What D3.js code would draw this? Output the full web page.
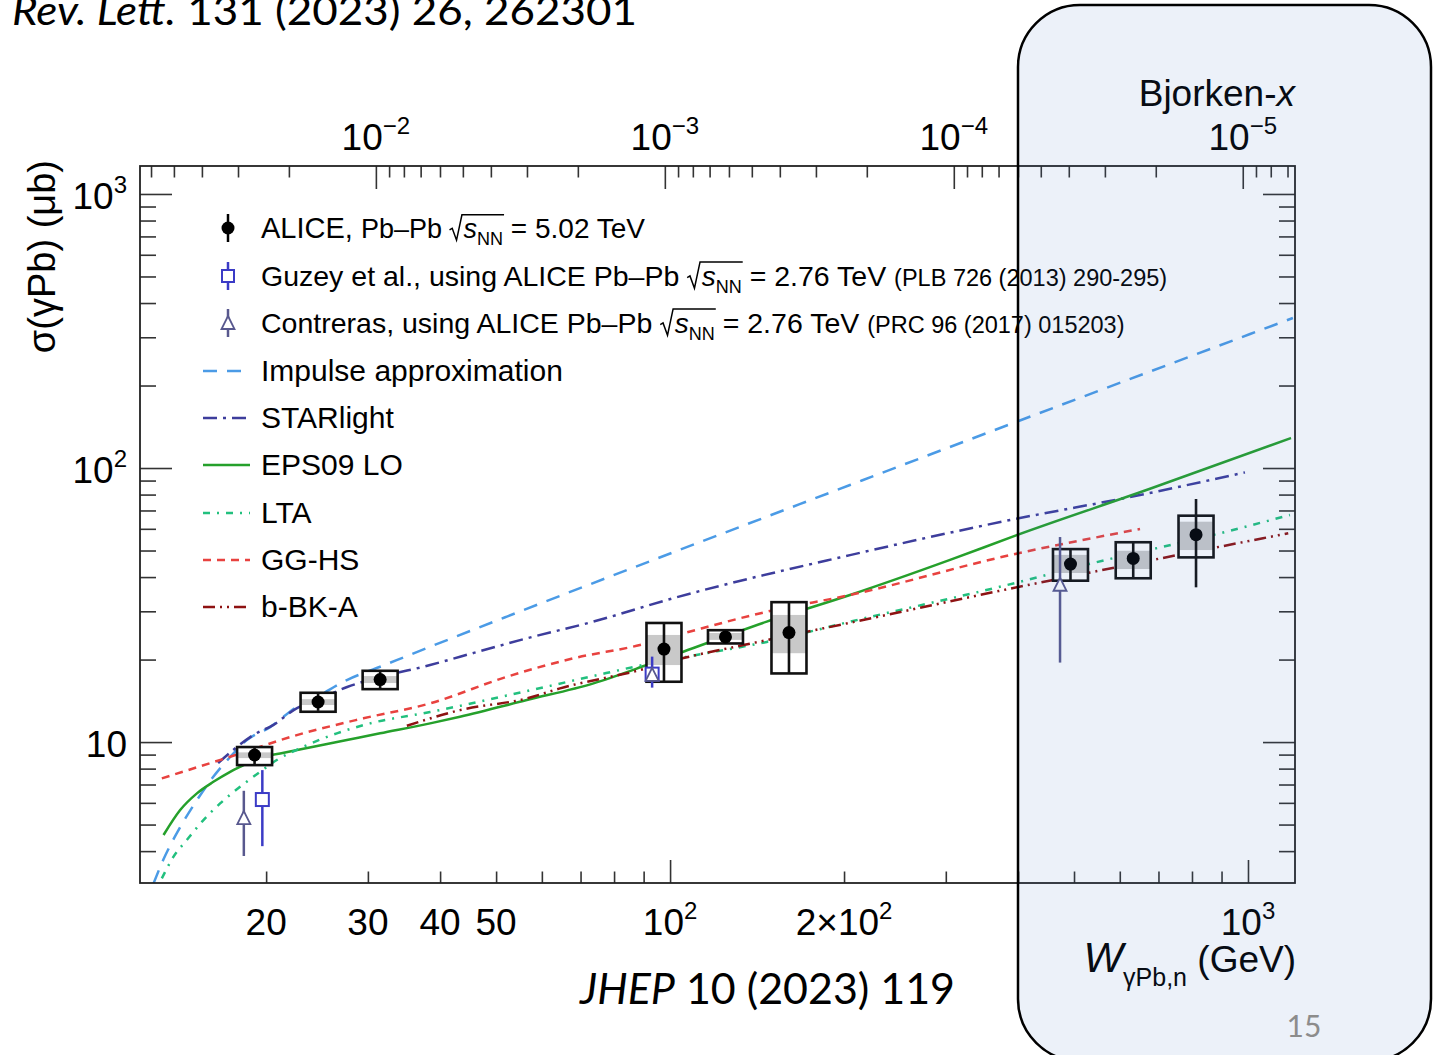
<!DOCTYPE html>
<html>
<head>
<meta charset="utf-8">
<script src="https://cdn.jsdelivr.net/npm/d3@7"></script>
<style>
  body { margin: 0; background: #fff; }
  svg { display: block; }
  text { font-family: "Liberation Sans", Arial, sans-serif; white-space: pre; }
  .slide { font-family: Lato, "Open Sans", sans-serif; }
</style>
</head>
<body>
<div id="chart"></div>
<script>
// J/psi mass, used to turn W into Bjorken-x = (M/W)^2
var M_JPSI = 3.097;

// ALICE, Pb-Pb 5.02 TeV
var aliceW      = [19.1, 24.6, 31.5, 97.6, 124.7, 160.6, 493, 633, 813];
var aliceSigma  = [8.97, 14.0, 16.9, 21.85, 24.2, 25.1, 44.6, 46.8, 57.1];
var aliceStatLo = [8.3, 13.0, 15.7, 16.6, 22.9, 17.8, 38.4, 39.6, 36.7];
var aliceStatHi = [9.6, 15.1, 18.2, 27.2, 25.6, 32.4, 50.6, 53.6, 77.1];
var aliceSysLo  = [8.24, 12.9, 15.6, 16.6, 22.9, 17.8, 38.8, 39.6, 47.2];
var aliceSysHi  = [9.59, 15.13, 18.2, 27.2, 25.6, 32.4, 50.6, 53.6, 67.0];
var aliceCorLo  = [8.74, 13.65, 16.42, 19.1, 23.6, 21.1, 41.4, 42.8, 50.2];
var aliceCorHi  = [9.17, 14.34, 17.41, 24.6, 25.0, 29.1, 48.2, 49.9, 63.7];

// Guzey et al. (2.76 TeV)
var guzeyW     = [19.7, 93.1];
var guzeySigma = [6.17, 17.7];
var guzeyLo    = [4.17, 15.8];
var guzeyHi    = [7.90, 20.5];

// Contreras (2.76 TeV)
var contrW     = [18.3, 93.1, 472.9];
var contrSigma = [5.28, 17.6, 37.5];
var contrLo    = [3.84, 17.0, 19.5];
var contrHi    = [6.64, 18.3, 56.0];

// model curves
var iaW     = [12.77, 13.27, 14.20, 15.18, 16.19, 17.33, 18.52, 20.32, 22.6, 24.48, 27.59, 31.5, 38.44, 52.19, 204.8, 398, 1196];
var iaSigma = [3.05, 3.71, 4.89, 6.14, 7.45, 8.82, 10.17, 11.34, 13.45, 14.63, 16.84, 18.83, 22.27, 28.7, 86.7, 147.6, 352.7];

var slW     = [16.52, 17.54, 18.99, 20.56, 22.62, 24.51, 27.62, 31.5, 38.44, 43.3, 56.5, 73.6, 101.3, 204.8, 387.5, 650.4, 988];
var slSigma = [8.38, 9.35, 10.60, 11.53, 13.31, 14.23, 15.88, 17.27, 19.10, 20.48, 23.9, 27.5, 33.5, 48.1, 64.6, 79.7, 96.4];

var epsW     = [13.29, 14.20, 15.18, 16.21, 17.33, 18.28, 19.28, 21.15, 24.15, 27.59, 31.5, 38.44, 43.3, 56.5, 73.7, 91.1, 105.4, 147.0, 204.8, 305.1, 398, 676.8, 1187];
var epsSigma = [4.58, 5.65, 6.50, 7.16, 7.79, 8.24, 8.72, 9.09, 9.61, 10.17, 10.76, 11.70, 12.37, 14.23, 16.38, 19.10, 21.36, 27.5, 34.4, 46.2, 56.9, 84.0, 128.7];

var ltaW     = [13.20, 13.82, 14.58, 15.58, 16.65, 18.03, 19.53, 20.87, 23.20, 26.51, 30.27, 38.44, 56.5, 73.6, 86.3, 106.9, 147.0, 204.8, 382.4, 539.3, 894.4, 1182];
var ltaSigma = [3.18, 3.81, 4.39, 5.19, 5.97, 6.87, 7.79, 8.60, 9.61, 10.76, 11.70, 12.87, 15.35, 17.41, 18.78, 20.48, 23.2, 27.5, 37.4, 45.0, 57.8, 67.4];

var ggW     = [13.20, 17.33, 22.60, 29.48, 38.44, 52.19, 68.0, 88.7, 105.4, 147.0, 204.8, 387.3, 650.4];
var ggSigma = [7.37, 8.84, 10.60, 12.21, 13.84, 17.31, 20.21, 22.59, 24.93, 29.89, 34.4, 48.1, 59.9];

var bkW     = [35.04, 43.3, 56.5, 64.5, 88.7, 106.9, 133.9, 204.8, 377.3, 540, 1174];
var bkSigma = [11.47, 13.08, 14.43, 15.70, 18.31, 20.38, 22.59, 27.25, 35.86, 41.8, 57.8];

// tick labels
var xTickValues = [20, 30, 40, 50, 100, 200, 1000];
var xTickBase   = ["20", "30", "40", "50", "10", "2×10", "10"];
var xTickExp    = ["", "", "", "", "2", "2", "3"];
var bxTickValues = [1e-2, 1e-3, 1e-4, 1e-5];
var bxTickExp    = ["−2", "−3", "−4", "−5"];
var yTickValues = [10, 100, 1000];
var yTickExp    = ["", "2", "3"];

var models = [
  {name: "Impulse approximation", W: iaW, s: iaSigma, color: "#4b9be6", dash: "14,10"},
  {name: "STARlight", W: slW, s: slSigma, color: "#3d3d9c", dash: "14,6,3,6"},
  {name: "EPS09 LO", W: epsW, s: epsSigma, color: "#25a02b", dash: null},
  {name: "LTA", W: ltaW, s: ltaSigma, color: "#22c07e", dash: "7,7,2,7"},
  {name: "GG-HS", W: ggW, s: ggSigma, color: "#e8423f", dash: "8,6"},
  {name: "b-BK-A", W: bkW, s: bkSigma, color: "#8e1212", dash: "12,5,2,5,2,5"}
];

var margin = {top: 166, right: 145, bottom: 172, left: 140},
    width = 1440 - margin.left - margin.right,
    height = 1055 - margin.top - margin.bottom;

var svg = d3.select("#chart").append("svg")
    .attr("width", 1440)
    .attr("height", 1055);

var plot = svg.append("g")
    .attr("transform", "translate(" + margin.left + "," + margin.top + ")");

var x = d3.scaleLog().domain([12.1, 1206]).range([0, width]);
var y = d3.scaleLog().domain([3.06, 1265]).range([height, 0]);
// Bjorken-x is linear in log W, so a log scale with mapped ends fits exactly
var xb = d3.scaleLog()
    .domain([Math.pow(M_JPSI / 12.1, 2), Math.pow(M_JPSI / 1206, 2)])
    .range([0, width]);

// write text pieces one after another (sub/superscripts, sqrt)
function richText(g, x0, y0, parts) {
  var cx = x0;
  parts.forEach(function(p) {
    if (p.sqrt) {
      var sx = cx, s = p.size;
      cx = richText(g, cx + s * 0.52, y0, p.sqrt);
      g.append("path")
        .attr("d", "M" + sx + "," + (y0 - 0.3 * s) + "L" + (sx + 0.1 * s) + "," + (y0 - 0.36 * s) +
          "L" + (sx + 0.26 * s) + "," + (y0 + 0.08 * s) + "L" + (sx + 0.46 * s) + "," + (y0 - 0.86 * s) +
          "L" + (cx + 1) + "," + (y0 - 0.86 * s))
        .attr("fill", "none").attr("stroke", "#000").attr("stroke-width", 1.5);
      return;
    }
    var t = g.append("text")
      .attr("x", cx).attr("y", y0 + (p.dy || 0))
      .attr("font-size", p.size)
      .attr("fill", p.color || "#000")
      .text(p.t);
    if (p.italic) t.attr("font-style", "italic");
    cx += t.node().getComputedTextLength();
  });
  return cx;
}

function placeRich(parent, px, py, parts, anchor) {
  var g = parent.append("g");
  var w = richText(g, 0, 0, parts);
  var dx = anchor === "middle" ? -w / 2 : (anchor === "end" ? -w : 0);
  g.attr("transform", "translate(" + (px + dx) + "," + py + ")");
  return g;
}

function minorTicks(lo, hi, majors) {
  var out = [];
  for (var e = -7; e <= 4; e++) {
    for (var k = 2; k <= 9; k++) {
      var v = k * Math.pow(10, e);
      if (v >= lo && v <= hi && majors.indexOf(v) < 0) out.push(v);
    }
  }
  return out;
}

// ---- curves
plot.append("clipPath").attr("id", "clip")
  .append("rect").attr("width", width).attr("height", height);

var line = d3.line()
  .x(function(d) { return x(d[0]); })
  .y(function(d) { return y(d[1]); })
  .curve(d3.curveMonotoneX);

var curves = plot.append("g").attr("clip-path", "url(#clip)");
models.forEach(function(m) {
  curves.append("path")
    .datum(m.W.map(function(w, i) { return [w, m.s[i]]; }))
    .attr("d", line)
    .attr("fill", "none")
    .attr("stroke", m.color)
    .attr("stroke-width", 2.5)
    .attr("stroke-dasharray", m.dash);
});

// ---- ALICE points
var boxHalf = 17.5;
var alice = plot.append("g");
aliceW.forEach(function(w, i) {
  var cx = x(w);
  alice.append("rect")
    .attr("x", cx - boxHalf).attr("y", y(aliceSysHi[i]))
    .attr("width", 2 * boxHalf).attr("height", y(aliceSysLo[i]) - y(aliceSysHi[i]))
    .attr("fill", "#fff");
  alice.append("rect")
    .attr("x", cx - boxHalf).attr("y", y(aliceCorHi[i]))
    .attr("width", 2 * boxHalf).attr("height", y(aliceCorLo[i]) - y(aliceCorHi[i]))
    .attr("fill", "#c9c9c9");
  alice.append("rect")
    .attr("x", cx - boxHalf).attr("y", y(aliceSysHi[i]))
    .attr("width", 2 * boxHalf).attr("height", y(aliceSysLo[i]) - y(aliceSysHi[i]))
    .attr("fill", "none").attr("stroke", "#111").attr("stroke-width", 2.6);
  alice.append("line")
    .attr("x1", cx).attr("x2", cx)
    .attr("y1", y(aliceStatHi[i])).attr("y2", y(aliceStatLo[i]))
    .attr("stroke", "#111").attr("stroke-width", 2.6);
  alice.append("circle")
    .attr("cx", cx).attr("cy", y(aliceSigma[i])).attr("r", 6.5)
    .attr("fill", "#000");
});

// ---- Guzey and Contreras
var guzeyColor = "#3b3bc6", contrColor = "#58588e";
guzeyW.forEach(function(w, i) {
  var cx = x(w), cy = y(guzeySigma[i]);
  plot.append("line").attr("x1", cx).attr("x2", cx)
    .attr("y1", y(guzeyHi[i])).attr("y2", y(guzeyLo[i]))
    .attr("stroke", guzeyColor).attr("stroke-width", 2.5);
  plot.append("rect").attr("x", cx - 6.5).attr("y", cy - 6.5)
    .attr("width", 13).attr("height", 13)
    .attr("fill", "#fff").attr("stroke", guzeyColor).attr("stroke-width", 2);
});
contrW.forEach(function(w, i) {
  var cx = x(w), cy = y(contrSigma[i]);
  plot.append("line").attr("x1", cx).attr("x2", cx)
    .attr("y1", y(contrHi[i])).attr("y2", y(contrLo[i]))
    .attr("stroke", contrColor).attr("stroke-width", 2.5);
  plot.append("path")
    .attr("d", "M" + cx + "," + (cy - 7) + "L" + (cx + 6.5) + "," + (cy + 6) + "L" + (cx - 6.5) + "," + (cy + 6) + "Z")
    .attr("fill", "#fff").attr("stroke", contrColor).attr("stroke-width", 1.8);
});

// ---- axes (ticks point inward, ROOT style)
var axisColor = "#333";
function drawTicks(axisFn, scale, values, size, transform) {
  var g = plot.append("g").attr("transform", transform || null)
    .call(axisFn(scale).tickValues(values).tickSize(size).tickSizeOuter(0).tickFormat(""));
  g.select(".domain").remove();
  g.selectAll("line").attr("stroke", axisColor).attr("stroke-width", 1.6);
  return g;
}
var xMinor = minorTicks(12.1, 1206, [100, 1000]);
var yMinor = minorTicks(3.06, 1265, yTickValues);
var bxMinor = minorTicks(Math.pow(M_JPSI / 1206, 2), Math.pow(M_JPSI / 12.1, 2), bxTickValues);

drawTicks(d3.axisBottom, x, [100, 1000], -23, "translate(0," + height + ")");
drawTicks(d3.axisBottom, x, xMinor, -11.5, "translate(0," + height + ")");
drawTicks(d3.axisTop, xb, bxTickValues, -23);
drawTicks(d3.axisTop, xb, bxMinor, -11.5);
drawTicks(d3.axisLeft, y, yTickValues, -32);
drawTicks(d3.axisLeft, y, yMinor, -16);
drawTicks(d3.axisRight, y, yTickValues, -32, "translate(" + width + ",0)");
drawTicks(d3.axisRight, y, yMinor, -16, "translate(" + width + ",0)");

plot.append("rect")
  .attr("width", width).attr("height", height)
  .attr("fill", "none").attr("stroke", "#222").attr("stroke-width", 1.8);

// tick labels
var labelSize = 37, expSize = 24;
xTickValues.forEach(function(v, i) {
  var parts = [{t: xTickBase[i], size: labelSize}];
  if (xTickExp[i]) parts.push({t: xTickExp[i], size: expSize, dy: -16});
  placeRich(plot, x(v), height + 52, parts, "middle");
});
bxTickValues.forEach(function(v, i) {
  placeRich(plot, xb(v), -16, [{t: "10", size: labelSize}, {t: bxTickExp[i], size: expSize, dy: -16}], "middle");
});
yTickValues.forEach(function(v, i) {
  var parts = [{t: "10", size: labelSize}];
  if (yTickExp[i]) parts.push({t: yTickExp[i], size: expSize, dy: -16});
  placeRich(plot, -13, y(v) + 15, parts, "end");
});

// axis titles
var yTitle = svg.append("g").attr("transform", "translate(55,160) rotate(-90)");
placeRich(yTitle, 0, 0, [{t: "σ(γPb) (μb)", size: 38}], "end");
placeRich(svg, 1296, 972, [
  {t: "W", size: 42, italic: true},
  {t: "γPb,n", size: 25, dy: 14},
  {t: " (GeV)", size: 37}
], "end");
placeRich(svg, 1295, 106, [{t: "Bjorken-", size: 37}, {t: "x", size: 37, italic: true}], "end");

// ---- legend
var leg = svg.append("g");
var legX = 261, legSize = 29, refSize = 23.5;
var legRows = [228, 276, 323, 371, 418, 465, 513, 560, 607];

leg.append("line").attr("x1", 228).attr("x2", 228).attr("y1", legRows[0] - 14).attr("y2", legRows[0] + 14)
  .attr("stroke", "#000").attr("stroke-width", 2.5);
leg.append("circle").attr("cx", 228).attr("cy", legRows[0]).attr("r", 6.5).attr("fill", "#000");
richText(leg, legX, legRows[0] + 10, [
  {t: "ALICE, ", size: legSize}, {t: "Pb–Pb ", size: legSize - 2},
  {sqrt: [{t: "s", size: legSize - 2, italic: true}, {t: "NN", size: 18, dy: 7}], size: legSize - 2},
  {t: " = 5.02 TeV", size: legSize - 1}
]);

leg.append("line").attr("x1", 228).attr("x2", 228).attr("y1", legRows[1] - 14).attr("y2", legRows[1] + 14)
  .attr("stroke", guzeyColor).attr("stroke-width", 2.5);
leg.append("rect").attr("x", 222).attr("y", legRows[1] - 6).attr("width", 12).attr("height", 12)
  .attr("fill", "#fff").attr("stroke", guzeyColor).attr("stroke-width", 2);
richText(leg, legX, legRows[1] + 10, [
  {t: "Guzey et al., using ALICE Pb–Pb ", size: legSize - 0.5},
  {sqrt: [{t: "s", size: legSize - 1, italic: true}, {t: "NN", size: 18, dy: 7}], size: legSize - 1},
  {t: " = 2.76 TeV ", size: legSize - 0.5},
  {t: "(PLB 726 (2013) 290-295)", size: refSize}
]);

leg.append("line").attr("x1", 228).attr("x2", 228).attr("y1", legRows[2] - 14).attr("y2", legRows[2] + 14)
  .attr("stroke", contrColor).attr("stroke-width", 2.5);
leg.append("path")
  .attr("d", "M228," + (legRows[2] - 7) + "L234.5," + (legRows[2] + 6) + "L221.5," + (legRows[2] + 6) + "Z")
  .attr("fill", "#fff").attr("stroke", contrColor).attr("stroke-width", 1.8);
richText(leg, legX, legRows[2] + 10, [
  {t: "Contreras, using ALICE Pb–Pb ", size: legSize - 0.5},
  {sqrt: [{t: "s", size: legSize - 1, italic: true}, {t: "NN", size: 18, dy: 7}], size: legSize - 1},
  {t: " = 2.76 TeV ", size: legSize - 0.5},
  {t: "(PRC 96 (2017) 015203)", size: refSize}
]);

models.forEach(function(m, i) {
  var ry = legRows[3 + i];
  leg.append("line").attr("x1", 203).attr("x2", 250).attr("y1", ry).attr("y2", ry)
    .attr("stroke", m.color).attr("stroke-width", 2.5).attr("stroke-dasharray", m.dash);
  richText(leg, legX, ry + 10, [{t: m.name, size: legSize + 1}]);
});

// ---- slide text around the figure
var refTop = svg.append("text").attr("class", "slide")
  .attr("x", 12).attr("y", 25).attr("font-size", 40)
  .attr("textLength", 625).attr("lengthAdjust", "spacingAndGlyphs");
refTop.append("tspan").attr("font-style", "italic").text("Rev. Lett.");
refTop.append("tspan").text(" 131 (2023) 26, 262301");

var refJhep = svg.append("text").attr("class", "slide")
  .attr("x", 580).attr("y", 1004).attr("font-size", 42)
  .attr("textLength", 375).attr("lengthAdjust", "spacingAndGlyphs");
refJhep.append("tspan").attr("font-style", "italic").text("JHEP");
refJhep.append("tspan").text(" 10 (2023) 119");

// highlight box over the high-W region
svg.append("rect")
  .attr("x", 1018).attr("y", 5).attr("width", 413).attr("height", 1056).attr("rx", 62)
  .attr("fill", "#4472c4").attr("fill-opacity", 0.1)
  .attr("stroke", "#000").attr("stroke-width", 2.5);

svg.append("text").attr("class", "slide")
  .attr("x", 1304).attr("y", 1037).attr("text-anchor", "middle")
  .attr("font-size", 30).attr("fill", "#8c8c8c").text("15");
</script>
</body>
</html>
